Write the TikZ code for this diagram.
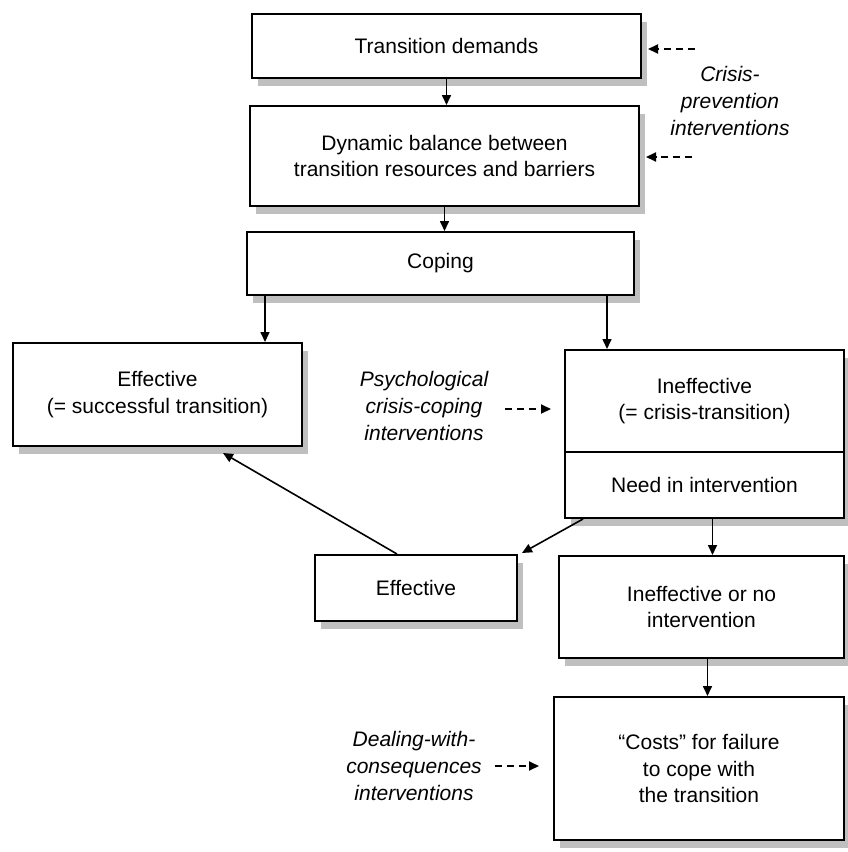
\documentclass[tikz,border=0pt]{standalone}
\usepackage{fontspec}
\setmainfont{Liberation Sans}
\usetikzlibrary{arrows.meta,shadows,calc}
\begin{document}
\begin{tikzpicture}[x=0.5pt,y=-0.5pt,
  box/.style={draw=black, line width=1pt, fill=white, rectangle, inner sep=0pt, align=center,
    font=\fontsize{10.5}{13.4}\selectfont,
    drop shadow={shadow xshift=3pt, shadow yshift=-4pt, fill=gray!50, opacity=1}},
  note/.style={align=center, font=\fontsize{10.5}{13.4}\selectfont\itshape, inner sep=0pt},
  arr/.style={line width=0.8pt, -{Triangle[length=5pt,width=4.5pt]}},
  darr/.style={line width=0.9pt, dash pattern=on 3.5pt off 2.5pt, -{Triangle[length=5pt,width=4.5pt]}}
]
\fill[white] (0,0) rectangle (847,852);
\useasboundingbox (0,0) rectangle (847,852);

\node[box, minimum width=194.5pt, minimum height=32pt] (box1) at (446.5,46) {Transition demands};
\node[box, minimum width=194.5pt, minimum height=50pt] (box2) at (444.5,156) {Dynamic balance between\\transition resources and barriers};
\node[box, minimum width=193.5pt, minimum height=31.5pt] (coping) at (440.5,263.5) {Coping};
\node[box, minimum width=144.5pt, minimum height=51.5pt] (effbig) at (157.5,394.5) {Effective\\(= successful transition)};
\node[box, minimum width=139.5pt, minimum height=51pt] (ineff) at (704.5,401) {Ineffective\\(= crisis-transition)};
\node[box, minimum width=139.5pt, minimum height=33pt] (need) at (704.5,485) {Need in intervention};
\node[box, minimum width=101pt, minimum height=33pt] (effsmall) at (416,588) {Effective};
\node[box, minimum width=142.5pt, minimum height=51pt] (ineffno) at (701.5,607) {Ineffective or no\\intervention};
\node[box, minimum width=145pt, minimum height=71.5pt] (costs) at (699,768.5) {``Costs'' for failure\\to cope with\\the transition};

\node[note] (crisis) at (730,101) {Crisis-\\prevention\\interventions};
\node[note] (psych) at (424,406) {Psychological\\crisis-coping\\interventions};
\node[note] (deal) at (414,766) {Dealing-with-\\consequences\\interventions};

% solid connectors
\draw[arr] (box1.south) -- (box1.south |- box2.north);
\draw[arr] (box2.south) -- (box2.south |- coping.north);
\draw[arr] ($(coping.south west)+(19,0)$) coordinate (cl) -- (cl |- effbig.north);
\draw[arr] ($(coping.south east)+(-28,0)$) coordinate (cr) -- (cr |- ineff.north);
\draw[arr] ($(need.south)+(8,0)$) coordinate (n1) -- (n1 |- ineffno.north);
\draw[arr] ($(ineffno.south)+(6,0)$) coordinate (n2) -- (n2 |- costs.north);
\draw[arr] ($(need.south west)+(19,0)$) -- ($(effsmall.north east)+(4,-1)$);
\draw[arr] ($(effsmall.north)+(-19,0)$) -- ($(effbig.south west)+(211,6)$);

% dashed connectors
\coordinate (c1) at (695,49);
\coordinate (c2) at (692,157);
\coordinate (p1) at (505,409);
\coordinate (d1) at (495,766);
\draw[darr] (c1) -- ($(box1.east |- c1)+(6,0)$);
\draw[darr] (c2) -- ($(box2.east |- c2)+(6,0)$);
\draw[darr] (p1) -- ($(ineff.west |- p1)+(-13,0)$);
\draw[darr] (d1) -- ($(costs.west |- d1)+(-14,0)$);
\end{tikzpicture}
\end{document}
